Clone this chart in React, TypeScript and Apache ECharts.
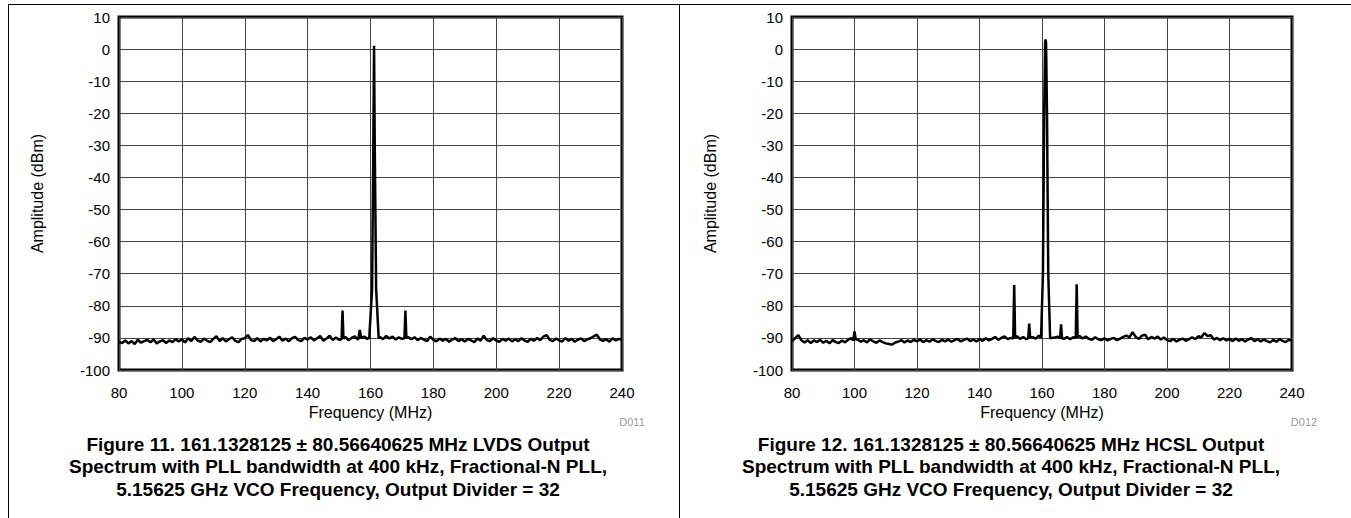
import React, { useEffect, useRef } from "react";
import * as echarts from "echarts";

// Frequency ticks (MHz) and amplitude ticks (dBm)
const xTicks = [80, 100, 120, 140, 160, 180, 200, 220, 240];
const yTicks = [-100, -90, -80, -70, -60, -50, -40, -30, -20, -10, 0, 10];

// Noise floor, one value per MHz from 80 to 240 MHz
const noiseFreq: number[] = [
  80, 81, 82, 83, 84, 85, 86, 87, 88, 89, 90, 91, 92, 93, 94, 95, 96, 97, 98, 99,
  100, 101, 102, 103, 104, 105, 106, 107, 108, 109, 110, 111, 112, 113, 114, 115, 116, 117, 118, 119,
  120, 121, 122, 123, 124, 125, 126, 127, 128, 129, 130, 131, 132, 133, 134, 135, 136, 137, 138, 139,
  140, 141, 142, 143, 144, 145, 146, 147, 148, 149, 150, 151, 152, 153, 154, 155, 156, 157, 158, 159,
  160, 161, 162, 163, 164, 165, 166, 167, 168, 169, 170, 171, 172, 173, 174, 175, 176, 177, 178, 179,
  180, 181, 182, 183, 184, 185, 186, 187, 188, 189, 190, 191, 192, 193, 194, 195, 196, 197, 198, 199,
  200, 201, 202, 203, 204, 205, 206, 207, 208, 209, 210, 211, 212, 213, 214, 215, 216, 217, 218, 219,
  220, 221, 222, 223, 224, 225, 226, 227, 228, 229, 230, 231, 232, 233, 234, 235, 236, 237, 238, 239,
  240,
];

const lvdsNoise: number[] = [
  -91.2, -91.6, -90.8, -91.7, -91.0, -91.9, -90.6, -91.5, -91.0, -90.6,
  -91.4, -90.5, -91.7, -91.1, -90.7, -91.6, -90.8, -91.3, -90.4, -91.1,
  -90.5, -91.4, -90.1, -91.0, -89.7, -90.8, -91.2, -90.2, -90.9, -91.3,
  -90.3, -89.5, -91.0, -90.1, -91.1, -90.4, -89.8, -90.9, -91.3, -90.3,
  -90.1, -89.1, -90.7, -91.0, -90.1, -91.1, -90.3, -90.8, -89.9, -91.0,
  -90.4, -89.6, -90.9, -90.2, -91.1, -90.1, -89.7, -90.7, -91.0, -90.0,
  -90.5, -89.8, -90.8, -90.1, -89.4, -90.9, -90.2, -89.3, -90.7, -89.9,
  -90.6, -90.3, -89.7, -90.7, -90.0, -89.5, -90.5, -90.0, -89.6, -90.3,
  -90.0, -90.0, -90.0, -89.7, -90.4, -89.4, -90.2, -89.6, -90.5, -89.8,
  -90.3, -90.0, -89.7, -90.4, -89.8, -90.7, -90.0, -90.5, -91.0, -89.6,
  -90.6, -91.1, -90.2, -90.9, -90.3, -91.2, -90.5, -90.1, -91.0, -90.4,
  -91.1, -90.3, -90.8, -91.3, -90.2, -90.9, -89.3, -90.7, -91.0, -90.1,
  -90.8, -91.2, -90.3, -90.9, -90.2, -91.1, -90.4, -91.0, -90.1, -90.8,
  -91.2, -90.3, -90.9, -90.0, -90.7, -89.6, -89.1, -90.6, -91.0, -90.2,
  -90.8, -91.1, -90.1, -90.9, -90.3, -91.2, -90.5, -90.2, -91.0, -90.4,
  -90.1, -89.5, -89.0, -90.5, -90.9, -90.4, -91.2, -90.1, -90.8, -90.3,
  -90.6,
];

const hcslNoise: number[] = [
  -91.0, -90.1, -89.1, -90.7, -91.4, -90.7, -91.6, -90.8, -91.3, -90.6,
  -91.5, -90.9, -91.7, -90.7, -91.3, -91.6, -90.8, -91.4, -90.5, -90.1,
  -90.4, -90.5, -91.2, -90.7, -91.4, -90.4, -91.1, -91.5, -90.8, -91.3,
  -91.7, -91.9, -92.1, -91.4, -91.2, -90.7, -91.4, -90.8, -91.3, -90.6,
  -91.1, -90.5, -91.3, -90.7, -91.2, -90.4, -91.0, -91.3, -90.6, -91.1,
  -90.5, -91.2, -90.7, -90.3, -91.1, -90.6, -90.2, -91.0, -90.5, -91.1,
  -90.4, -90.9, -90.1, -90.8, -90.3, -89.7, -90.6, -90.0, -89.5, -90.4,
  -90.0, -90.0, -89.5, -90.3, -89.7, -90.4, -90.0, -89.8, -90.2, -89.3,
  -90.0, -90.0, -90.0, -90.0, -89.9, -89.6, -90.0, -90.3, -89.7, -90.4,
  -89.8, -90.0, -89.4, -90.2, -89.6, -90.3, -90.6, -89.8, -90.4, -90.7,
  -90.1, -90.8, -90.3, -90.0, -90.7, -90.2, -89.7, -89.3, -89.8, -88.2,
  -89.7, -90.3, -89.3, -89.0, -90.4, -89.7, -90.2, -89.6, -90.5, -89.9,
  -90.7, -91.0, -90.3, -91.1, -90.6, -90.2, -90.9, -90.4, -89.8, -90.4,
  -89.5, -89.8, -88.5, -89.4, -89.2, -90.5, -90.0, -90.7, -90.1, -90.8,
  -90.3, -91.0, -90.2, -90.9, -90.4, -91.1, -90.5, -90.1, -91.0, -90.4,
  -91.1, -90.5, -91.0, -91.4, -90.6, -91.2, -90.4, -90.9, -91.3, -90.6,
  -90.9,
];

// Narrow features: carrier and spurs, as [MHz, dBm]
const lvdsPeaks: [number, number][][] = [
  [[150.8, -90.4], [151.1, -81.5], [151.4, -90.2]],
  [[156.2, -90.1], [156.6, -87.5], [157.0, -90.0]],
  [[159.6, -90.0], [160.5, -75], [160.9, -30], [161.13, 1], [161.35, -30], [161.8, -75], [162.6, -90.0]],
  [[170.8, -90.1], [171.1, -81.5], [171.4, -90.0]],
];

const hcslPeaks: [number, number][][] = [
  [[99.6, -90.8], [100.0, -88.0], [100.4, -90.5]],
  [[150.8, -90.2], [151.1, -73.5], [151.4, -90.0]],
  [[155.6, -90.1], [155.9, -85.5], [156.2, -89.8]],
  [[159.7, -90.0], [160.3, -70], [160.7, -20], [161.0, 2], [161.13, 3], [161.3, 2], [161.6, -20], [162.0, -70], [162.6, -90.0]],
  [[165.8, -90.0], [166.1, -85.8], [166.4, -90.1]],
  [[170.8, -90.0], [171.1, -73.3], [171.4, -89.8]],
];

const captionLeft = [
  "Figure 11. 161.1328125 ± 80.56640625 MHz LVDS Output",
  "Spectrum with PLL bandwidth at 400 kHz, Fractional-N PLL,",
  "5.15625 GHz VCO Frequency, Output Divider = 32",
];
const captionRight = [
  "Figure 12. 161.1328125 ± 80.56640625 MHz HCSL Output",
  "Spectrum with PLL bandwidth at 400 kHz, Fractional-N PLL,",
  "5.15625 GHz VCO Frequency, Output Divider = 32",
];

function buildTrace(noise: number[], peaks: [number, number][][]): [number, number][] {
  const pts: [number, number][] = [];
  noiseFreq.forEach((f, i) => {
    const inside = peaks.some((g) => f >= g[0][0] && f <= g[g.length - 1][0]);
    if (!inside) pts.push([f, noise[i]]);
  });
  peaks.forEach((g) => g.forEach((p) => pts.push([p[0], p[1]])));
  pts.sort((a, b) => a[0] - b[0]);
  return pts;
}

const FONT = "'Liberation Sans', Arial, sans-serif";

export default function App() {
  const ref = useRef<HTMLDivElement>(null);
  useEffect(() => {
    if (!ref.current) return;
    const chart = echarts.init(ref.current, undefined, { renderer: "svg" });

    const grids = [
      { left: 119, top: 17, width: 503, height: 353 },
      { left: 792, top: 17, width: 500, height: 353 },
    ];

    const xAxes = grids.map((_, i) => ({
      type: "value",
      gridIndex: i,
      min: xTicks[0],
      max: xTicks[xTicks.length - 1],
      interval: 20,
      name: "Frequency (MHz)",
      nameLocation: "middle",
      nameGap: 33,
      nameTextStyle: { color: "#000", fontSize: 16, fontFamily: FONT },
      axisLine: { show: false },
      axisTick: { show: false },
      axisLabel: { color: "#000", fontSize: 15, fontFamily: FONT, margin: 15 },
      splitLine: { show: true, lineStyle: { color: "#444", width: 1 } },
    }));

    const yAxes = grids.map((_, i) => ({
      type: "value",
      gridIndex: i,
      min: yTicks[0],
      max: yTicks[yTicks.length - 1],
      interval: 10,
      name: "Amplitude (dBm)",
      nameLocation: "middle",
      nameGap: 74,
      nameTextStyle: { color: "#000", fontSize: 16, fontFamily: FONT },
      axisLine: { show: false },
      axisTick: { show: false },
      axisLabel: { color: "#000", fontSize: 15, fontFamily: FONT, margin: 9 },
      splitLine: { show: true, lineStyle: { color: "#444", width: 1 } },
    }));

    const captionText = (lines: string[], cx: number) =>
      lines.map((t, k) => ({
        type: "text",
        x: cx,
        y: 444 + k * 22.5,
        style: {
          text: t,
          fill: "#000",
          font: `bold 19px ${FONT}`,
          textAlign: "center",
          textVerticalAlign: "middle",
        },
      }));

    chart.setOption({
      animation: false,
      grid: grids.map((g) => ({
        ...g,
        show: true,
        borderColor: "#000",
        borderWidth: 3,
        backgroundColor: "transparent",
      })),
      xAxis: xAxes,
      yAxis: yAxes,
      series: [
        {
          type: "line",
          xAxisIndex: 0,
          yAxisIndex: 0,
          data: buildTrace(lvdsNoise, lvdsPeaks),
          showSymbol: false,
          lineStyle: { color: "#000", width: 2.5 },
          z: 3,
        },
        {
          type: "line",
          xAxisIndex: 1,
          yAxisIndex: 1,
          data: buildTrace(hcslNoise, hcslPeaks),
          showSymbol: false,
          lineStyle: { color: "#000", width: 2.5 },
          z: 3,
        },
      ],
      graphic: [
        { type: "line", shape: { x1: 8, y1: 4.5, x2: 1351, y2: 4.5 }, style: { stroke: "#000", lineWidth: 1 } },
        { type: "line", shape: { x1: 8.5, y1: 4, x2: 8.5, y2: 518 }, style: { stroke: "#000", lineWidth: 1 } },
        { type: "line", shape: { x1: 679.5, y1: 4, x2: 679.5, y2: 518 }, style: { stroke: "#000", lineWidth: 1 } },
        {
          type: "text",
          x: 632,
          y: 422,
          style: { text: "D011", fill: "#999", font: `11px ${FONT}`, textAlign: "center", textVerticalAlign: "middle" },
        },
        {
          type: "text",
          x: 1304,
          y: 422,
          style: { text: "D012", fill: "#999", font: `11px ${FONT}`, textAlign: "center", textVerticalAlign: "middle" },
        },
        ...captionText(captionLeft, 338),
        ...captionText(captionRight, 1011),
      ],
    });

    return () => chart.dispose();
  }, []);

  return (
    <div
      ref={ref}
      style={{ position: "absolute", left: 0, top: 0, width: 1351, height: 518, background: "#fff" }}
    />
  );
}
